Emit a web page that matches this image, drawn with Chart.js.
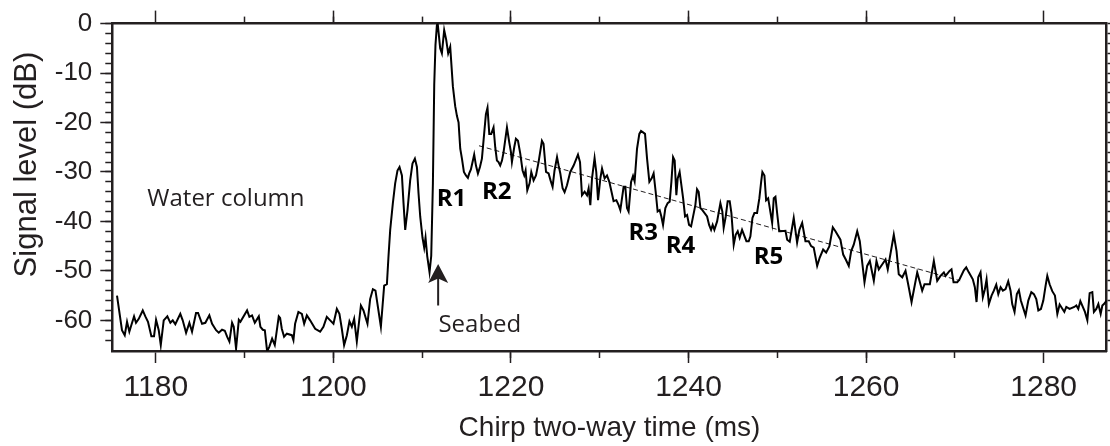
<!DOCTYPE html>
<html>
<head>
<meta charset="utf-8">
<script src="https://cdn.jsdelivr.net/npm/chart.js@4.4.1/dist/chart.umd.min.js"></script>
<style>
  html, body { margin: 0; padding: 0; background: #fff; }
</style>
</head>
<body>
<canvas id="myChart" width="1110" height="446"></canvas>
<script>
// --- Chirp trace (ms, dB) ---
const times = [
  1175.63, 1176.19, 1176.50, 1176.76, 1177.02, 1177.24, 1177.55, 1177.77, 1178.08, 1178.53,
  1178.82, 1179.12, 1179.50, 1179.80, 1180.03, 1180.33, 1180.56, 1180.89, 1181.30, 1181.64,
  1181.91, 1182.20, 1182.76, 1183.03, 1183.41, 1183.78, 1184.08, 1184.53, 1184.76, 1185.21,
  1185.58, 1186.03, 1186.34, 1186.79, 1187.09, 1187.46, 1187.77, 1188.03, 1188.29, 1188.59,
  1188.78, 1189.04, 1189.35, 1189.53, 1190.28, 1190.54, 1190.84, 1191.15, 1191.60, 1191.78,
  1192.05, 1192.28, 1192.54, 1192.79, 1193.10, 1193.40, 1193.85,
  1194.00, 1194.19, 1194.45, 1194.76, 1195.32, 1195.50, 1195.69, 1196.06, 1196.45, 1196.71,
  1197.01, 1197.38, 1197.95, 1198.51, 1198.88, 1199.26, 1199.64, 1200.01, 1200.39, 1200.68,
  1200.95, 1201.21, 1201.52, 1201.81, 1202.08, 1202.34, 1202.64, 1203.10, 1203.39, 1203.84,
  1204.14, 1204.45, 1204.74, 1205.35, 1205.72, 1206.03, 1206.21, 1206.40, 1206.70, 1206.96,
  1207.22, 1207.45, 1207.72, 1207.90, 1208.09, 1208.35, 1208.65, 1208.91, 1209.18, 1209.41,
  1209.59, 1209.78, 1210.04, 1210.23, 1210.38, 1210.57, 1210.83, 1211.02, 1211.21, 1211.36,
  1211.50, 1211.66, 1211.75, 1212.03, 1212.22, 1212.48, 1212.71, 1212.93, 1213.16, 1213.46,
  1213.72, 1213.92, 1214.10, 1214.29, 1214.48, 1214.70, 1214.93, 1215.15, 1215.30, 1215.49,
  1215.86, 1216.06, 1216.28, 1216.51, 1216.73, 1217.03, 1217.18, 1217.36, 1217.56, 1217.78,
  1218.04, 1218.23, 1218.42, 1218.60, 1218.79, 1218.99, 1219.17, 1219.55, 1219.81, 1220.00,
  1220.11, 1220.37, 1220.56, 1220.79, 1221.05, 1221.31, 1221.50, 1221.65, 1221.84, 1222.10,
  1222.29, 1222.55, 1222.82, 1223.11, 1223.49, 1223.67, 1223.95, 1224.24, 1224.46, 1224.69,
  1224.91, 1225.19, 1225.37, 1225.56, 1225.82, 1226.04, 1226.31, 1226.68, 1227.06, 1227.55,
  1227.78, 1228.00, 1228.30, 1228.57, 1228.75, 1228.94, 1229.13, 1229.42, 1229.61, 1229.81,
  1230.07, 1230.26, 1230.55, 1230.82, 1231.08,
  1231.56, 1231.87, 1232.13, 1232.32, 1232.51, 1232.69, 1232.88, 1233.07, 1233.25, 1233.53,
  1233.75, 1233.93, 1234.20, 1234.46, 1234.65, 1234.88, 1235.10, 1235.33, 1235.59, 1235.85,
  1236.07, 1236.30, 1236.52, 1236.75, 1236.94, 1237.13, 1237.39, 1237.65, 1237.88, 1238.07,
  1238.26, 1238.44, 1238.63, 1238.78, 1239.00, 1239.39, 1239.61, 1239.84, 1240.06, 1240.29,
  1240.77, 1240.96, 1241.14, 1241.34, 1241.56, 1242.09, 1242.32, 1242.54, 1242.72, 1242.91,
  1243.22, 1243.59, 1243.81, 1243.96, 1244.19, 1244.41, 1244.64, 1244.83, 1245.09, 1245.31,
  1245.54, 1245.76, 1246.03, 1246.52, 1246.78, 1246.97, 1247.20, 1247.42, 1247.72, 1247.98,
  1248.18, 1248.32, 1248.55, 1248.74, 1248.97, 1249.42, 1249.60, 1249.79, 1249.98, 1250.21,
  1250.35, 1250.92, 1251.11, 1251.40, 1251.85, 1252.23, 1252.49, 1252.80, 1253.17, 1253.54,
  1253.81, 1254.10, 1254.49, 1254.78, 1255.16, 1255.50, 1255.87, 1256.25, 1256.55, 1257.11,
  1257.42, 1257.71, 1258.05, 1258.32, 1258.61, 1259.00, 1259.29, 1259.82, 1260.12, 1260.42,
  1260.87, 1261.17, 1261.43, 1261.81, 1262.19, 1262.44, 1263.12, 1263.43, 1263.68, 1264.07,
  1264.44, 1264.74, 1265.12, 1265.76, 1266.32, 1266.58, 1267.18, 1267.63, 1268.01, 1268.38,
  1268.76,
  1268.95, 1269.40, 1269.62, 1269.85, 1270.27, 1270.53, 1271.01, 1271.28, 1271.57, 1272.02,
  1272.25, 1272.44, 1272.63, 1272.89, 1273.15, 1273.38, 1273.57, 1273.83, 1274.13, 1274.39,
  1274.66, 1274.89, 1275.15, 1275.41, 1275.71, 1276.01, 1276.27, 1276.46, 1276.72, 1276.98,
  1277.21, 1277.43, 1277.96, 1278.27, 1278.61, 1278.90, 1279.17, 1279.40, 1279.69, 1279.96,
  1280.22, 1280.41, 1280.67, 1280.97, 1281.27, 1281.54, 1281.80, 1282.33, 1282.55, 1282.92,
  1283.45, 1283.68, 1283.90, 1284.13, 1284.65, 1284.92, 1285.18, 1285.48, 1285.66, 1285.93,
  1286.16, 1286.42, 1286.61, 1286.79, 1287.09
];
const levels = [
  -55, -62, -63, -60.3, -62.3, -61, -59.2, -60.5, -59.7, -58,
  -59.2, -60.3, -63.2, -63.2, -59.9, -62, -65, -60, -59.2, -60.5,
  -60, -60.8, -58.7, -60, -62.5, -60.5, -62.3, -58.5, -58.5, -60.7,
  -60.5, -59, -60.7, -62, -62.5, -61.9, -62.1, -63.3, -64.3, -60.5,
  -61.3, -65.7, -59.9, -60.3, -58, -59.3, -59, -60.5, -59.2, -61.3,
  -61.9, -62, -66.3, -65.3, -63.7, -65, -59.2,
  -59.5, -61.7, -63.3, -62.7, -63, -64, -60.7, -58.3, -58.7, -60.7,
  -59, -60, -61.7, -62.3, -61.3, -59.3, -60, -60.7, -57.7, -58.7,
  -61.7, -65, -63, -60.2, -61.3, -59.7, -64.3, -57, -58, -60.7,
  -55.7, -53.7, -54, -61.3, -53, -52.7, -47, -41.7, -36.3, -32.3,
  -29.7, -29, -30.7, -36.3, -41.7, -37.7, -31.7, -28.3, -27.3, -29,
  -34.3, -39, -43.3, -45.3, -43.3, -47, -50.3, -47, -32.3, -12.3,
  -4.3, -0.3, 0, -5, -6, -1.3, -3.3, -6, -4.7, -12.7,
  -16.7, -18.7, -20, -25.3, -27.3, -30, -30.7, -31.2, -30.3, -29.5,
  -26.5, -28.7, -30.3, -29, -27.3, -21.3, -18.3, -17, -22.3, -22.3,
  -21, -25, -27.7, -28, -28.7, -27.7, -26, -21, -24, -26,
  -28, -25, -23.3, -23.7, -26.3, -29.7, -30.7, -29.7, -33.7, -32.3,
  -30, -31.7, -30.7, -28, -23.7, -24.3, -30, -30.3, -31.7, -33,
  -29.7, -27, -28.7, -30.3, -33.3, -34.1, -32.7, -30, -28.7, -26.5,
  -28, -34.7, -34, -34.7, -33.3, -36.7, -31.3, -27.2, -30, -35.7,
  -31.3, -29.3, -31.3, -30.7, -32,
  -35.9, -35.7, -36.7, -37.7, -35.3, -33, -33, -37.3, -38, -32,
  -30.8, -31.9, -25.3, -22.3, -21.7, -22, -22.3, -27.3, -32, -31.3,
  -30.3, -34, -38, -37.7, -39, -40.7, -37.3, -36.3, -36, -32,
  -27, -27.7, -34.7, -31.3, -30, -35.3, -39, -38.7, -40.7, -41,
  -36.7, -33.5, -34, -37.3, -37.7, -39, -40.7, -41.7, -40.7, -41.7,
  -40, -36.3, -38, -41.3, -39, -35.9, -35.9, -38.3, -44.7, -42.7,
  -42, -43.3, -41.7, -44, -44, -43, -39.3, -38.3, -38.3, -35.3,
  -32, -30, -30.7, -35.7, -35.3, -40.3, -35.3, -35, -38.3, -42,
  -42, -41.9, -43.7, -44.1, -39.3, -44.3, -41.7, -40.3, -44, -44,
  -45, -45.3, -49, -47.3, -45.7, -46.3, -45, -41.2, -42, -43.7,
  -46.7, -47.7, -49, -46, -44.7, -42, -44, -52.3, -49, -48,
  -52, -48, -49.7, -48.7, -47.7, -49.7, -42.7, -46, -50.7, -51.3,
  -50, -52.7, -56.3, -50.3, -54, -52.7, -52.7, -48, -52, -51,
  -50.3,
  -51, -50, -49.7, -52.3, -52.3, -51.7, -49.9, -49.3, -50.3, -51.7,
  -53.3, -56.3, -51.3, -50.3, -55.3, -53.7, -51.7, -56.7, -55, -54,
  -52.8, -54.7, -53.3, -54, -53.7, -52.1, -54, -56.7, -58.3, -54.7,
  -53.9, -56, -59, -56, -54.3, -54.7, -55.7, -58, -57.7, -56,
  -53, -51, -52.7, -54.1, -55, -58.7, -56.8, -58.3, -57.3, -57.7,
  -57.3, -57, -57.7, -56.1, -58.3, -60, -54.5, -54.3, -58.3, -57.7,
  -56.7, -58.7, -57, -56.7, -56
];

// --- Dashed decay trend ---
const trendTimes  = [1216.4, 1270.6];
const trendLevels = [-24.7, -52.0];

// --- Axis ticks ---
const xTicks = [1180, 1200, 1220, 1240, 1260, 1280];
const yTicks = [-60, -50, -40, -30, -20, -10, 0];

const xMin = 1175.1, xMax = 1287.1;
const yMin = -66.2,  yMax = 0;

const INK  = '#231f20';
const SANS = '"Liberation Sans", Arial, sans-serif';
const MYR  = '"Open Sans", "Noto Sans", sans-serif';

// keep only ticks on a whole step (drops the min/max bound ticks)
function onStep(step) {
  return scale => {
    scale.ticks = scale.ticks.filter(t => Math.abs(t.value / step - Math.round(t.value / step)) < 1e-6);
  };
}

const tickMarks = len => ({ drawOnChartArea: false, drawTicks: true, tickLength: len, tickWidth: 1.5, tickColor: INK });

// --- Figure text: labels, seabed arrow, y title ---
const figureText = {
  id: 'figureText',
  afterDatasetsDraw(chart) {
    const { ctx, scales: { x, y } } = chart;
    ctx.save();
    ctx.fillStyle = INK;
    ctx.strokeStyle = INK;
    ctx.textAlign = 'center';
    ctx.textBaseline = 'alphabetic';

    const put = (txt, t, v, font) => {
      ctx.font = font;
      ctx.fillText(txt, x.getPixelForValue(t), y.getPixelForValue(v));
    };
    put('Water column', 1187.9, -36.9, '24px ' + MYR);
    ctx.fillStyle = '#000';
    put('R1', 1213.3, -36.8, 'bold 24px ' + MYR);
    put('R2', 1218.4, -35.4, 'bold 24px ' + MYR);
    put('R3', 1234.9, -43.8, 'bold 24px ' + MYR);
    put('R4', 1239.1, -46.4, 'bold 24px ' + MYR);
    put('R5', 1249.0, -48.6, 'bold 24px ' + MYR);
    ctx.fillStyle = INK;
    put('Seabed', 1216.5, -62.4, '24px ' + MYR);

    // seabed arrow
    const ax = x.getPixelForValue(1211.8);
    const tip = y.getPixelForValue(-48.6);
    const tail = y.getPixelForValue(-57.0);
    ctx.lineWidth = 2;
    ctx.beginPath();
    ctx.moveTo(ax, tail);
    ctx.lineTo(ax, tip + 12);
    ctx.stroke();
    ctx.beginPath();
    ctx.moveTo(ax, tip);
    ctx.lineTo(ax + 10, tip + 19);
    ctx.lineTo(ax, tip + 14.5);
    ctx.lineTo(ax - 10, tip + 19);
    ctx.closePath();
    ctx.fill();

    // y axis title (sits above the plot centre in the figure)
    ctx.translate(36, y.getPixelForValue(-28.5));
    ctx.rotate(-Math.PI / 2);
    ctx.font = '31px ' + SANS;
    ctx.fillText('Signal level (dB)', 0, 0);
    ctx.restore();
  }
};

const ctx = document.getElementById('myChart').getContext('2d');
const chart = new Chart(ctx, {
  type: 'line',
  data: {
    datasets: [
      {
        label: 'Signal',
        data: times.map((t, i) => ({ x: t, y: levels[i] })),
        borderColor: '#000',
        borderWidth: 2,
        pointRadius: 0,
        tension: 0,
        xAxisID: 'x',
        yAxisID: 'y'
      },
      {
        label: 'Trend',
        data: trendTimes.map((t, i) => ({ x: t, y: trendLevels[i] })),
        borderColor: INK,
        borderWidth: 1,
        borderDash: [5, 3],
        pointRadius: 0,
        xAxisID: 'x',
        yAxisID: 'y'
      }
    ]
  },
  options: {
    responsive: false,
    animation: false,
    events: [],
    layout: { padding: 0 },
    plugins: {
      legend: { display: false },
      tooltip: { enabled: false }
    },
    scales: {
      x: {
        type: 'linear', axis: 'x', position: 'bottom', weight: 1,
        min: xMin, max: xMax,
        afterBuildTicks: s => { s.ticks = xTicks.map(v => ({ value: v })); },
        ticks: { callback: v => String(v), color: INK, font: { family: SANS, size: 30 }, padding: 7, autoSkip: false, maxRotation: 0 },
        grid: tickMarks(12),
        border: { display: true, width: 2.5, color: INK },
        title: {
          display: true, text: 'Chirp two-way time (ms)', color: INK,
          font: { family: SANS, size: 28 }, padding: { top: 0, bottom: 1 }
        },
        afterFit: s => { s.height = 95; }
      },
      xMinor: {
        type: 'linear', axis: 'x', position: 'bottom', weight: 0,
        min: xMin, max: xMax,
        ticks: { display: false, stepSize: 10 },
        afterBuildTicks: onStep(10),
        grid: tickMarks(7),
        border: { display: false },
        afterFit: s => { s.height = 0; }
      },
      xTop: {
        type: 'linear', axis: 'x', position: 'top', weight: 1,
        min: xMin, max: xMax,
        afterBuildTicks: s => { s.ticks = xTicks.map(v => ({ value: v })); },
        ticks: { display: false },
        grid: tickMarks(13),
        border: { display: true, width: 2.5, color: INK },
        afterFit: s => { s.height = 20; }
      },
      xTopMinor: {
        type: 'linear', axis: 'x', position: 'top', weight: 0,
        min: xMin, max: xMax,
        ticks: { display: false, stepSize: 10 },
        afterBuildTicks: onStep(10),
        grid: tickMarks(7),
        border: { display: false },
        afterFit: s => { s.height = 0; }
      },
      y: {
        type: 'linear', axis: 'y', position: 'left', weight: 1,
        min: yMin, max: yMax,
        afterBuildTicks: s => { s.ticks = yTicks.map(v => ({ value: v })); },
        ticks: { callback: v => String(v), color: INK, font: { family: SANS, size: 26 }, padding: 8, autoSkip: false },
        grid: tickMarks(12),
        border: { display: true, width: 2.5, color: INK },
        afterFit: s => { s.width = 112.3; }
      },
      yMinor: {
        type: 'linear', axis: 'y', position: 'left', weight: 0,
        min: yMin, max: yMax,
        ticks: { display: false, stepSize: 2 },
        afterBuildTicks: onStep(2),
        grid: tickMarks(7),
        border: { display: false },
        afterFit: s => { s.width = 0; }
      },
      y2: {
        type: 'linear', axis: 'y', position: 'right', weight: 1,
        min: yMin, max: yMax,
        ticks: { display: false, stepSize: 2 },
        afterBuildTicks: onStep(2),
        grid: tickMarks(6),
        border: { display: true, width: 2.5, color: INK },
        afterFit: s => { s.width = 3.3; }
      }
    }
  },
  plugins: [figureText]
});
</script>
</body>
</html>
